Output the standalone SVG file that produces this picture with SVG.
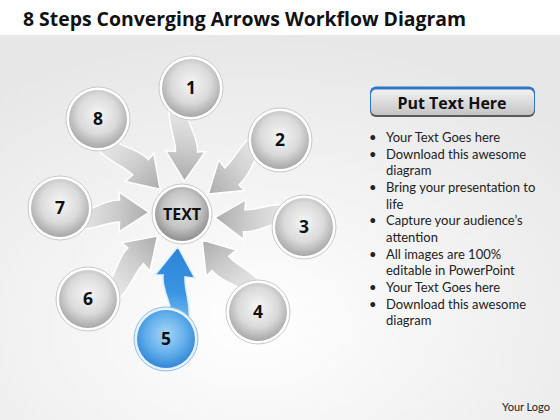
<svg xmlns="http://www.w3.org/2000/svg" xmlns:xlink="http://www.w3.org/1999/xlink" width="560" height="420" viewBox="0 0 560 420">
<defs>
<style>
.title{font-family:"Open Sans","Liberation Sans",sans-serif;font-weight:bold;font-size:19.4px;fill:#111}
.num{font-family:"Open Sans","Liberation Sans",sans-serif;font-weight:bold;font-size:17.5px;fill:#111;text-anchor:middle}
.ctext{font-family:"Open Sans","Liberation Sans",sans-serif;font-weight:bold;font-size:16px;fill:#111;text-anchor:middle}
.bul{font-family:"Lato","Liberation Sans",sans-serif;font-size:13px;fill:#222}
.hdr{font-family:"Open Sans","Liberation Sans",sans-serif;font-weight:bold;font-size:16px;fill:#111;text-anchor:middle}
.logo{font-family:"Lato","Liberation Sans",sans-serif;font-size:11px;fill:#222}
.arrow{fill:url(#gArrow);stroke:#fff;stroke-width:1.5}
.arrowBlue{fill:url(#gArrowBlue);stroke:#dff0ff;stroke-width:1.5}
.ring{fill:#fff;stroke:#c9c9c9;stroke-width:1}
.ball{fill:url(#gBall)}
.ringBlue{fill:#e6f3ff;stroke:#8fbfe8;stroke-width:1}
.ballBlue{fill:url(#gBallBlue)}
</style>
<radialGradient id="gBg" cx="45%" cy="75%" r="75%">
<stop offset="0" stop-color="#ffffff"/>
<stop offset="1" stop-color="#e7e7e7"/>
</radialGradient>
<linearGradient id="gArrow" x1="0" y1="0" x2="0" y2="1">
<stop offset="0" stop-color="#acacac"/>
<stop offset="0.45" stop-color="#cdcdcd"/>
<stop offset="1" stop-color="#ececec"/>
</linearGradient>
<linearGradient id="gArrowBlue" x1="0" y1="0" x2="0" y2="1">
<stop offset="0" stop-color="#2a82d6"/>
<stop offset="0.6" stop-color="#3b95e2"/>
<stop offset="1" stop-color="#7cc0f2"/>
</linearGradient>
<radialGradient id="gBall" cx="50%" cy="42%" r="62%">
<stop offset="0" stop-color="#f6f6f6"/>
<stop offset="0.55" stop-color="#dadada"/>
<stop offset="1" stop-color="#9e9e9e"/>
</radialGradient>
<radialGradient id="gBallC" cx="50%" cy="42%" r="62%">
<stop offset="0" stop-color="#e4e4e4"/>
<stop offset="0.55" stop-color="#c4c4c4"/>
<stop offset="1" stop-color="#858585"/>
</radialGradient>
<radialGradient id="gBallBlue" cx="50%" cy="42%" r="62%">
<stop offset="0" stop-color="#a9d6f7"/>
<stop offset="0.55" stop-color="#62afeb"/>
<stop offset="1" stop-color="#2a7fd0"/>
</radialGradient>
<linearGradient id="gHdr" x1="0" y1="0" x2="0" y2="1">
<stop offset="0" stop-color="#f2f2f2"/>
<stop offset="1" stop-color="#c4c4c4"/>
</linearGradient>
<path id="arr" d="M0 0 L21 29 L11 29 C12 44 21 54 21 76 L4 76 C3 58 -11 46 -11 30 L-19 31 Z"/>
</defs>

<rect x="0" y="0" width="560" height="420" fill="#fff"/>
<rect x="0" y="35" width="560" height="385" fill="url(#gBg)"/>
<text class="title" x="23" y="26">8 Steps Converging Arrows Workflow Diagram</text>

<g id="connectors">
<use xlink:href="#arr" class="arrow" transform="translate(184.4,181.1) rotate(-175.9)"/>
<use xlink:href="#arr" class="arrow" transform="translate(208.3,194.1) rotate(-127.1)"/>
<use xlink:href="#arr" class="arrow" transform="translate(214.8,217.5) rotate(-83.9)"/>
<use xlink:href="#arr" class="arrow" transform="translate(202.2,240.1) rotate(-37.8)"/>
<use xlink:href="#arr" class="arrowBlue" transform="translate(177.8,246.7) rotate(7.3)"/>
<use xlink:href="#arr" class="arrow" transform="translate(157.5,236.1) rotate(47.9)"/>
<use xlink:href="#arr" class="arrow" transform="translate(149.0,212.4) rotate(92.8)"/>
<use xlink:href="#arr" class="arrow" transform="translate(160.1,189.3) rotate(138.5)"/>
</g>

<g id="node-1"><circle class="ring" cx="191" cy="88" r="32"/><circle class="ball" cx="191" cy="88" r="29"/><text class="num" x="191" y="94">1</text></g>
<g id="node-2"><circle class="ring" cx="280" cy="140" r="32"/><circle class="ball" cx="280" cy="140" r="29"/><text class="num" x="280" y="146">2</text></g>
<g id="node-3"><circle class="ring" cx="304" cy="227" r="32"/><circle class="ball" cx="304" cy="227" r="29"/><text class="num" x="304" y="233">3</text></g>
<g id="node-4"><circle class="ring" cx="258" cy="312" r="32"/><circle class="ball" cx="258" cy="312" r="29"/><text class="num" x="258" y="318">4</text></g>
<g id="node-5"><circle class="ringBlue" cx="166" cy="339" r="32"/><circle class="ballBlue" cx="166" cy="339" r="29"/><text class="num" x="166" y="345">5</text></g>
<g id="node-6"><circle class="ring" cx="88" cy="299" r="32"/><circle class="ball" cx="88" cy="299" r="29"/><text class="num" x="88" y="305">6</text></g>
<g id="node-7"><circle class="ring" cx="60" cy="208" r="32"/><circle class="ball" cx="60" cy="208" r="29"/><text class="num" x="60" y="214">7</text></g>
<g id="node-8"><circle class="ring" cx="98" cy="119" r="32"/><circle class="ball" cx="98" cy="119" r="29"/><text class="num" x="98" y="125">8</text></g>
<g id="node-center"><circle class="ring" cx="182" cy="214" r="30"/><circle cx="182" cy="214" r="27" fill="url(#gBallC)"/><text class="ctext" x="182" y="220">TEXT</text></g>

<g id="panel">
<rect x="370" y="88" width="165" height="29" rx="6" fill="#5a5a5a"/>
<rect x="370" y="86.5" width="165" height="28" rx="6" fill="#2f78c8"/>
<rect x="371" y="89.5" width="163" height="25.5" rx="5" fill="url(#gHdr)"/>
<text class="hdr" x="452" y="109">Put Text Here</text>
<g class="bul">
<text x="369" y="142">•</text><text x="386" y="142">Your Text Goes here</text>
<text x="369" y="158.7">•</text><text x="386" y="158.7">Download this awesome</text>
<text x="386" y="175.3">diagram</text>
<text x="369" y="192">•</text><text x="386" y="192">Bring your presentation to</text>
<text x="386" y="208.7">life</text>
<text x="369" y="225.3">•</text><text x="386" y="225.3">Capture your audience’s</text>
<text x="386" y="242">attention</text>
<text x="369" y="258.7">•</text><text x="386" y="258.7">All images are 100%</text>
<text x="386" y="275.3">editable in PowerPoint</text>
<text x="369" y="292">•</text><text x="386" y="292">Your Text Goes here</text>
<text x="369" y="308.7">•</text><text x="386" y="308.7">Download this awesome</text>
<text x="386" y="325.3">diagram</text>
</g>
</g>
<text class="logo" x="502" y="411">Your Logo</text>
</svg>
